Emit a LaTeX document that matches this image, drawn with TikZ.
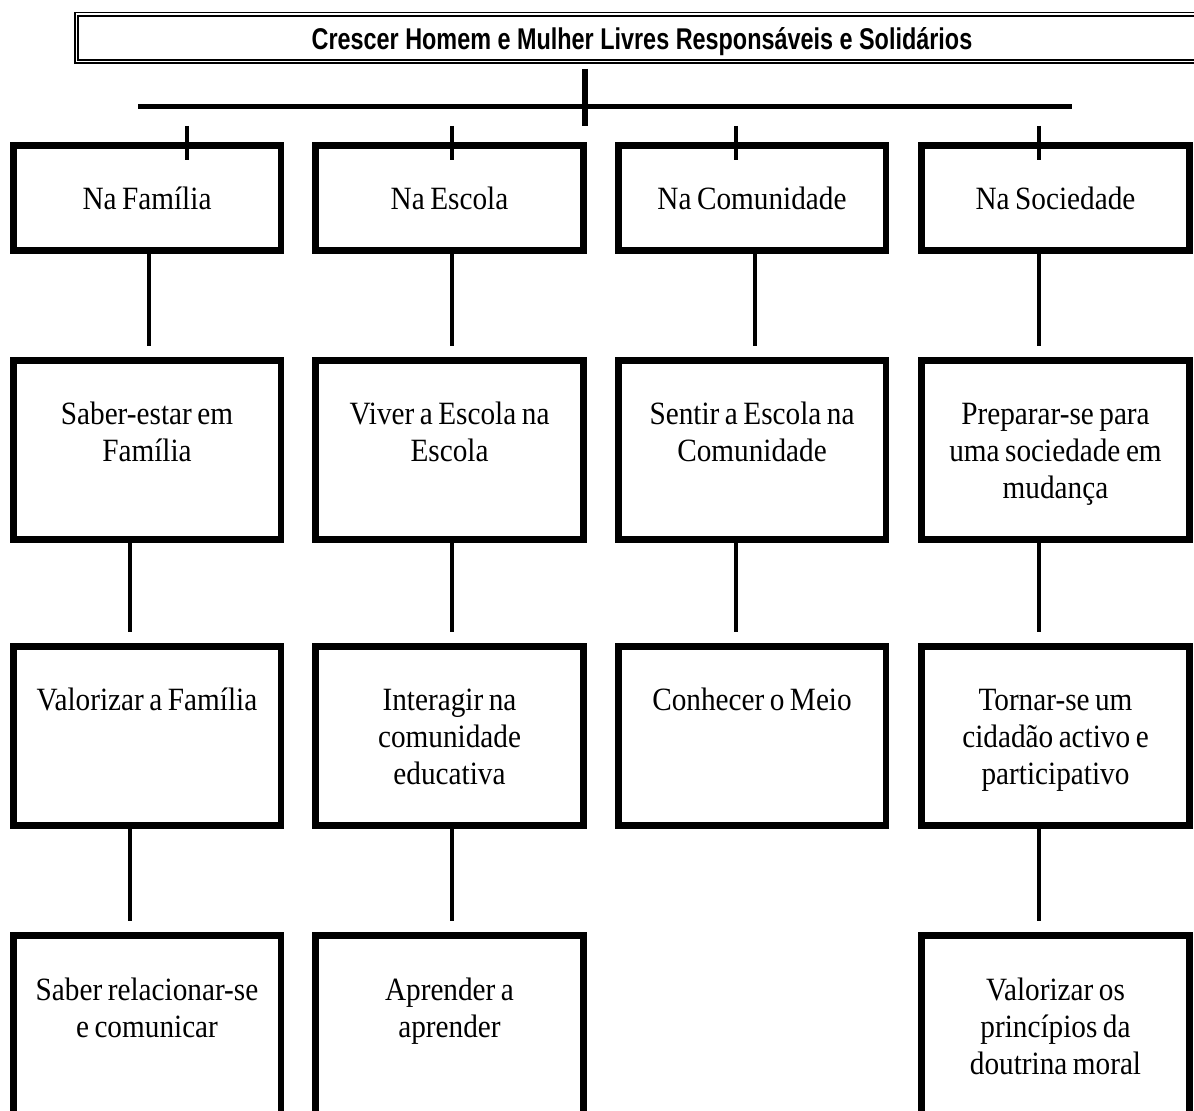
\documentclass[tikz,border=0pt]{standalone}
\usepackage{fontspec}
\setmainfont{Liberation Serif}[FakeStretch=0.9]
\newfontfamily\headfont{Liberation Sans}[FakeStretch=0.78]
\usepackage{tikz}
\usetikzlibrary{positioning,calc}
\tikzset{
  head-box/.style={draw,line width=0.8pt,double,double distance=0.9pt,
    minimum width=565.5pt,minimum height=23.65pt,inner sep=0pt,
    text height=12pt,text depth=0pt,
    font=\headfont\bfseries\fontsize{15pt}{18pt}\selectfont},
  stage-box/.style={draw,line width=3.3pt,minimum width=133.8pt,inner sep=0pt,
    text width=130pt,align=center,text height=32.35pt,text depth=57.35pt,
    font=\fontsize{16.25pt}{18.5pt}\selectfont,
    execute at begin node={\spaceskip=0.17em\relax}},
  stage-top/.style={stage-box,text height=32pt,text depth=20.7pt},
  bar-line/.style={line width=2.5pt},
  stem-line/.style={line width=3pt},
  tick-line/.style={line width=1.7pt},
  link/.style={line width=2pt,shorten >=5.5pt},
}
\begin{document}
\begin{tikzpicture}[x=0.5pt,y=-0.5pt]
  \path[use as bounding box,clip] (0,0) rectangle (1194,1111);
  \node[head-box] (head) at (642,37.85) {Crescer Homem e Mulher Livres Responsáveis e Solidários};
  \coordinate (bar-l) at (138,106.8);
  \coordinate (bar-r) at (1072,106.8);
  \coordinate (stem-t) at (585,69);
  \coordinate (stem-b) at (585,126);
  \draw[bar-line] (bar-l) -- (bar-r);
  \draw[stem-line] (stem-t) -- (stem-b);
  % linha 1
  \node[stage-top] (fam1) at (147,198)    {Na Família};
  \node[stage-top] (esc1) at (449.5,198)  {Na Escola};
  \node[stage-top] (com1) at (752,198)    {Na Comunidade};
  \node[stage-top] (soc1) at (1055.5,198) {Na Sociedade};
  % linha 2
  \node[stage-box] (fam2) at (147,450)    {Saber-estar em\\Família};
  \node[stage-box] (esc2) at (449.5,450)  {Viver a Escola na\\Escola};
  \node[stage-box] (com2) at (752,450)    {Sentir a Escola na\\Comunidade};
  \node[stage-box] (soc2) at (1055.5,450) {Preparar-se para\\uma sociedade em\\mudança};
  % linha 3
  \node[stage-box] (fam3) at (147,736)    {Valorizar a Família};
  \node[stage-box] (esc3) at (449.5,736)  {Interagir na\\comunidade\\educativa};
  \node[stage-box] (com3) at (752,736)    {Conhecer o Meio};
  \node[stage-box] (soc3) at (1055.5,736) {Tornar-se um\\cidadão activo e\\participativo};
  % linha 4
  \node[stage-box] (fam4) at (147,1025)    {Saber relacionar-se\\e comunicar};
  \node[stage-box] (esc4) at (449.5,1025)  {Aprender a\\aprender};
  \node[stage-box] (soc4) at (1055.5,1025) {Valorizar os\\princípios da\\doutrina moral};
  \foreach \x/\n in {187/fam1,452/esc1,736/com1,1039/soc1}
    \draw[tick-line] (\x,126) -- (\x,0 |- \n.north) -- ++(0,18);
  \foreach \x/\a/\b in {149/fam1/fam2,130/fam2/fam3,130/fam3/fam4,
      452/esc1/esc2,452/esc2/esc3,452/esc3/esc4,
      755/com1/com2,736/com2/com3,
      1039/soc1/soc2,1039/soc2/soc3,1039/soc3/soc4}
    \draw[link] (\x,0 |- \a.south) -- (\x,0 |- \b.north);
\end{tikzpicture}
\end{document}
